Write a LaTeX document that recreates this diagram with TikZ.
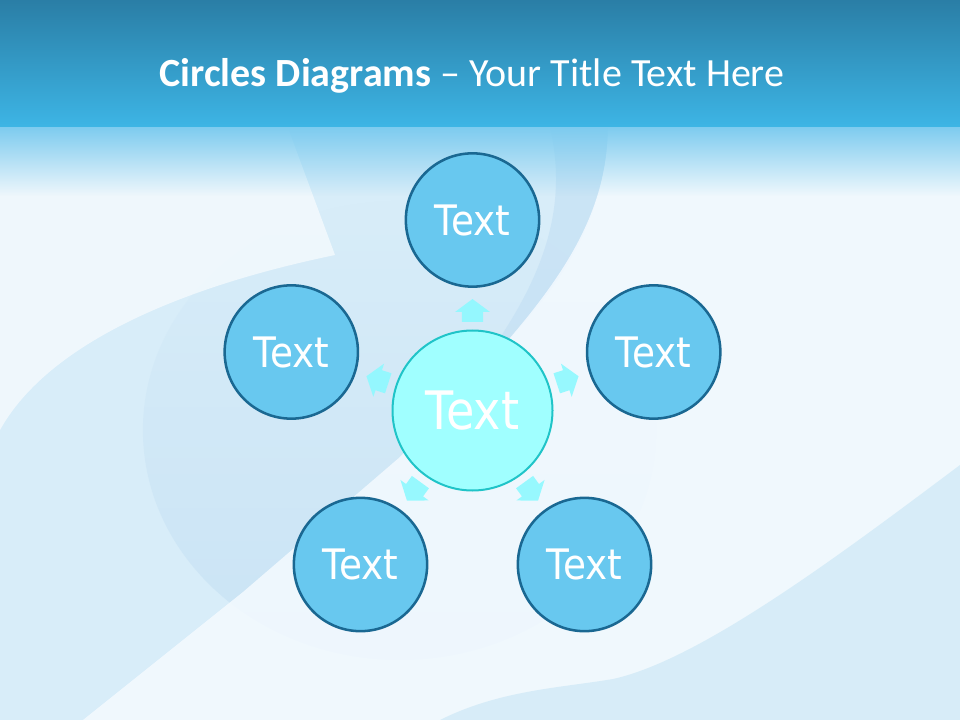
\documentclass[tikz,border=0pt]{standalone}
\usepackage{graphicx}
\usepackage{fontspec}
\setmainfont{Carlito}
\newfontfamily\circfont{DejaVu Sans}
\usetikzlibrary{calc,fadings}
\definecolor{hdrtop}{HTML}{2A7EA6}
\definecolor{hdrbot}{HTML}{3DB5E5}
\definecolor{fadeblue}{HTML}{7CCBEF}
\definecolor{bgbase}{HTML}{D8EDF9}
\definecolor{bgwhite}{HTML}{F6FBFF}
\definecolor{bgdark}{HTML}{C6E1F4}
\definecolor{bgbr}{HTML}{D7ECF8}
\definecolor{outerfill}{HTML}{68C8EF}
\definecolor{outerline}{HTML}{1A6892}
\definecolor{centerfill}{HTML}{A0FFFF}
\definecolor{centerline}{HTML}{20C4C8}
\definecolor{arrowfill}{HTML}{8EF9FF}
\tikzfading[name=fadedown, top color=transparent!0, bottom color=transparent!100]
\tikzfading[name=ellfade, top color=transparent!100, middle color=transparent!0, bottom color=transparent!0]
\newcommand\otext{\scalebox{0.89}[1.0]{Text}}
\newcommand\ctext{\scalebox{0.87}[1.0]{Text}}
\newcommand\blockarrow[2]{%
  \fill[arrowstyle]
   ($($(#1)!66.4pt!(#2)$)!7.9pt!90:(#2)$) --
   ($($(#1)!73.9pt!(#2)$)!7.9pt!90:(#2)$) --
   ($($(#1)!73.9pt!(#2)$)!13.1pt!90:(#2)$) --
   ($(#1)!83.6pt!(#2)$) --
   ($($(#1)!73.9pt!(#2)$)!13.1pt!-90:(#2)$) --
   ($($(#1)!73.9pt!(#2)$)!7.9pt!-90:(#2)$) --
   ($($(#1)!66.4pt!(#2)$)!7.9pt!-90:(#2)$) -- cycle;}
\tikzset{
  outercirc/.style={circle, draw=outerline, line width=1.9pt, fill=outerfill,
    minimum size=100pt, inner sep=0pt, text=white,
    font=\circfont\fontsize{31.5}{36}\selectfont},
  centercirc/.style={circle, draw=centerline, line width=1.5pt, fill=centerfill,
    minimum size=120pt, inner sep=0pt, text=white,
    font=\circfont\fontsize{39.75}{44}\selectfont},
  arrowstyle/.style={fill=arrowfill, opacity=0.9},
  titletext/.style={text=white, anchor=base, inner sep=0pt,
    font=\fontsize{30}{36}\selectfont}
}
\begin{document}
\begin{tikzpicture}[x=0.75pt,y=-0.75pt]
\useasboundingbox (0,0) rectangle (960,720);
% background
\fill[bgbase] (0,0) rectangle (960,720);
\fill[bgdark, opacity=0.75, path fading=ellfade] (400,430) ellipse [x radius=257, y radius=230];
\fill[bgdark, opacity=0.75] (548,120) -- (608,120) .. controls (610,240) and (530,320) .. (470,380)
   .. controls (530,300) and (575,220) .. (548,120) -- cycle;
\fill[white, opacity=0.6] (0,120) -- (285,120) -- (335,255) .. controls (190,285) and (50,340) .. (0,430) -- cycle;
\fill[bgwhite, opacity=0.82] (608,120) .. controls (610,240) and (530,320) .. (400,457)
   -- (243,592) -- (83,720) -- (960,720) -- (960,120) -- cycle;
\fill[bgbr] (960,465) .. controls (840,555) and (700,660) .. (613,679)
   .. controls (560,688) and (500,690) .. (440,720) -- (960,720) -- cycle;
% header
\fill[path fading=fadedown, fadeblue] (0,126) rectangle (960,196);
\shade[top color=hdrtop, bottom color=hdrbot] (0,0) rectangle (960,127);
\node[titletext] (title) at (472,87) {\textbf{Circles Diagrams} – Your Title Text Here};
% circles
\node[centercirc] (c) at (472.5,410.5) {\ctext};
\node[outercirc] (n) at (472.5,220) {\otext};
\node[outercirc] (w) at (291.3,352) {\otext};
\node[outercirc] (e) at (653.7,352) {\otext};
\node[outercirc] (sw) at (360.5,564.5) {\otext};
\node[outercirc] (se) at (584.5,564.5) {\otext};
% arrows
\blockarrow{c}{n}
\blockarrow{c}{w}
\blockarrow{c}{e}
\blockarrow{c}{sw}
\blockarrow{c}{se}
\end{tikzpicture}
\end{document}
